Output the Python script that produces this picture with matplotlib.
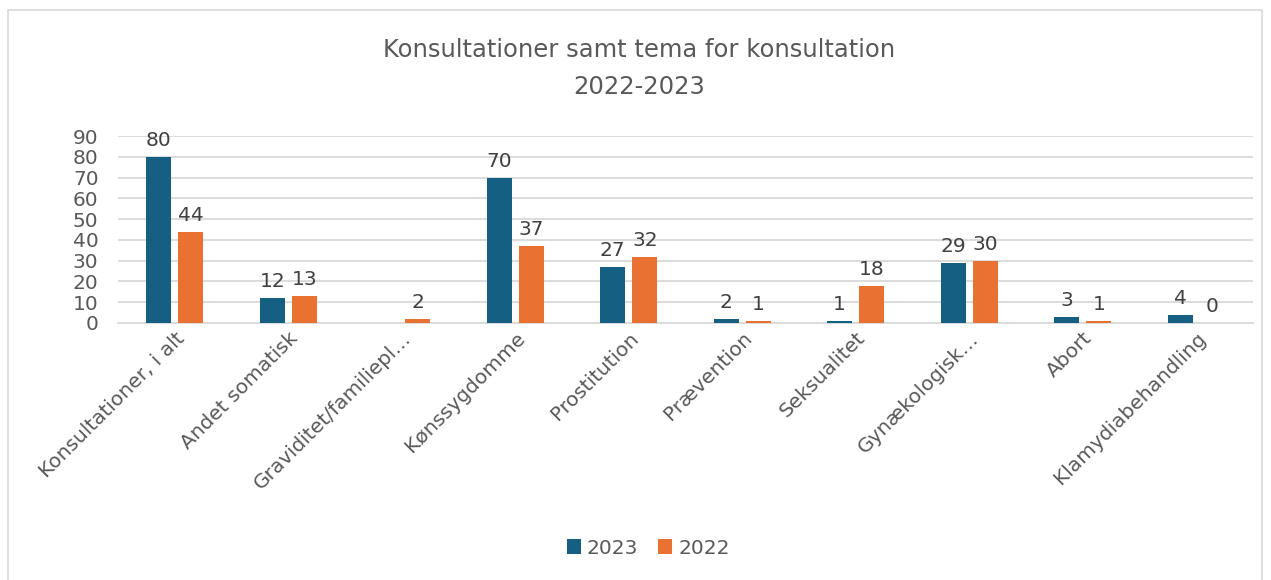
import numpy as np
import matplotlib; matplotlib.use('Agg')
import matplotlib.pyplot as plt
from matplotlib.patches import Rectangle

categories = ['Konsultationer, i alt', 'Andet somatisk', 'Graviditet/familiepl…', 'Kønssygdomme',
              'Prostitution', 'Prævention', 'Seksualitet', 'Gynækologisk…', 'Abort', 'Klamydiabehandling']
vals_2023 = [80, 12, np.nan, 70, 27, 2, 1, 29, 3, 4]
vals_2022 = [44, 13, 2, 37, 32, 1, 18, 30, 1, 0]
series = [('2023', vals_2023, '#156082'), ('2022', vals_2022, '#E97132')]
yticks = list(range(0, 100, 10))

TXT = '#595959'
FS = 14.5
plt.rcParams['font.family'] = ['DejaVu Sans']

fig = plt.figure(figsize=(12.71, 5.8), dpi=100)
fig.patches.append(Rectangle((8/1271, -0.01), 1254/1271, 1 - 10/580 + 0.01, transform=fig.transFigure,
                             fill=False, edgecolor='#d9d9d9', linewidth=1.2))
ax = fig.add_axes([118/1271, 1 - 323/580, (1253 - 118)/1271, (323 - 136)/580])

x = np.arange(len(categories))
w = 0.22; off = 0.141
for i, (name, vals, col) in enumerate(series):
    xs = x + (-off if i == 0 else off)
    ax.bar(xs, vals, width=w, color=col, label=name, zorder=3)
    for xi, v in zip(xs, vals):
        if np.isnan(v):
            continue
        ax.annotate(f'{int(v)}', (xi, v), xytext=(0, 5), textcoords='offset points',
                    ha='center', va='bottom', fontsize=FS, color='#404040')

ax.set_xlim(-0.5, len(categories) - 0.5)
ax.set_ylim(0, 90)
ax.set_yticks(yticks)
ax.yaxis.grid(True, color='#d9d9d9', linewidth=1.3, zorder=0)
ax.set_axisbelow(True)
for s in ['top', 'right', 'left']:
    ax.spines[s].set_visible(False)
ax.spines['bottom'].set_color('#d9d9d9'); ax.spines['bottom'].set_linewidth(1.3)
ax.tick_params(axis='both', length=0, labelsize=FS, labelcolor=TXT)
ax.tick_params(axis='y', pad=14)
ax.set_xticks(x)
ax.set_xticklabels(categories, rotation=45, ha='right', rotation_mode='anchor')
ax.tick_params(axis='x', pad=4)

fig.text(0.503, 1 - 50/580, 'Konsultationer samt tema for konsultation', ha='center', va='center', fontsize=17.5, color=TXT)
fig.text(0.503, 1 - 87/580, '2022-2023', ha='center', va='center', fontsize=17.5, color=TXT)

fig.legend(loc='center', bbox_to_anchor=(0.51, 1 - 548/580), ncol=2, frameon=False, fontsize=FS,
           handlelength=0.7, handleheight=0.7, handletextpad=0.3, columnspacing=1.0, labelcolor=TXT)

plt.savefig('out.png', dpi=100)
